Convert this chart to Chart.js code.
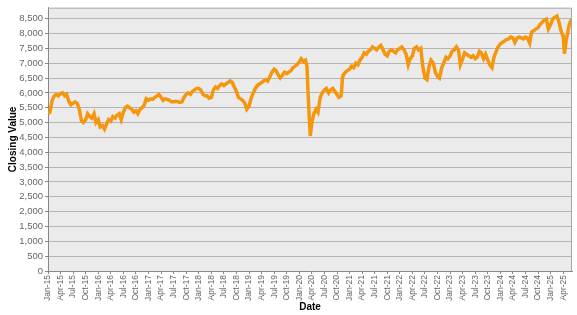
<!DOCTYPE html>
<html>
<head>
<meta charset="utf-8">
<script src="https://cdn.jsdelivr.net/npm/chart.js@4.4.1/dist/chart.umd.min.js"></script>
<style>
  html, body { margin: 0; padding: 0; background: #fff; }
  #wrap { width: 577px; height: 315px; }
</style>
</head>
<body>
<div id="wrap"><canvas id="chart" width="577" height="315"></canvas></div>
<script>
// closing values, roughly twice a month
const dates = [
  "2015-01-01","2015-01-15","2015-02-01","2015-02-15","2015-03-01","2015-03-15","2015-04-01","2015-04-15","2015-05-01","2015-05-15","2015-06-01","2015-06-15",
  "2015-07-01","2015-07-15","2015-08-01","2015-08-15","2015-09-01","2015-09-15","2015-10-01","2015-10-15","2015-11-01","2015-11-15","2015-12-01","2015-12-15",
  "2016-01-01","2016-01-15","2016-02-01","2016-02-15","2016-03-01","2016-03-15","2016-04-01","2016-04-15","2016-05-01","2016-05-15","2016-06-01","2016-06-15",
  "2016-07-01","2016-07-15","2016-08-01","2016-08-15","2016-09-01","2016-09-15","2016-10-01","2016-10-15","2016-11-01","2016-11-15","2016-12-01","2016-12-15",
  "2017-01-01","2017-01-15","2017-02-01","2017-02-15","2017-03-01","2017-03-15","2017-04-01","2017-04-15","2017-05-01","2017-05-15","2017-06-01","2017-06-15",
  "2017-07-01","2017-07-15","2017-08-01","2017-08-15","2017-09-01","2017-09-15","2017-10-01","2017-10-15","2017-11-01","2017-11-15","2017-12-01","2017-12-15",
  "2018-01-01","2018-01-15","2018-02-01","2018-02-15","2018-03-01","2018-03-15","2018-04-01","2018-04-15","2018-05-01","2018-05-15","2018-06-01","2018-06-15",
  "2018-07-01","2018-07-15","2018-08-01","2018-08-15","2018-09-01","2018-09-15","2018-10-01","2018-10-15","2018-11-01","2018-11-15","2018-12-01","2018-12-15",
  "2019-01-01","2019-01-15","2019-02-01","2019-02-15","2019-03-01","2019-03-15","2019-04-01","2019-04-15","2019-05-01","2019-05-15","2019-06-01","2019-06-15",
  "2019-07-01","2019-07-15","2019-08-01","2019-08-15","2019-09-01","2019-09-15","2019-10-01","2019-10-15","2019-11-01","2019-11-15","2019-12-01","2019-12-15",
  "2020-01-01","2020-01-15","2020-02-01","2020-02-15","2020-02-25","2020-03-01","2020-03-10","2020-03-20","2020-04-01","2020-04-15","2020-05-01","2020-05-15",
  "2020-06-01","2020-06-15","2020-07-01","2020-07-15","2020-08-01","2020-08-15","2020-09-01","2020-09-15","2020-10-01","2020-10-15","2020-11-01","2020-11-10",
  "2020-11-15","2020-12-01","2020-12-15",
  "2021-01-01","2021-01-15","2021-02-01","2021-02-15","2021-03-01","2021-03-15","2021-04-01","2021-04-15","2021-05-01","2021-05-15","2021-06-01","2021-06-15",
  "2021-07-01","2021-07-15","2021-08-01","2021-08-15","2021-09-01","2021-09-15","2021-10-01","2021-10-15","2021-11-01","2021-11-15","2021-12-01","2021-12-15",
  "2022-01-01","2022-01-15","2022-02-01","2022-02-15","2022-03-01","2022-03-15","2022-04-01","2022-04-15","2022-05-01","2022-05-15","2022-06-01","2022-06-15",
  "2022-07-01","2022-07-15","2022-08-01","2022-08-15","2022-09-01","2022-09-15","2022-10-01","2022-10-15","2022-11-01","2022-11-15","2022-12-01","2022-12-15",
  "2023-01-01","2023-01-15","2023-02-01","2023-02-15","2023-03-01","2023-03-15","2023-04-01","2023-04-15","2023-05-01","2023-05-15","2023-06-01","2023-06-15",
  "2023-07-01","2023-07-15","2023-08-01","2023-08-15","2023-09-01","2023-09-15","2023-10-01","2023-10-15","2023-11-01","2023-11-15","2023-12-01","2023-12-15",
  "2024-01-01","2024-01-15","2024-02-01","2024-02-15","2024-03-01","2024-03-15","2024-04-01","2024-04-15","2024-05-01","2024-05-15","2024-06-01","2024-06-15",
  "2024-07-01","2024-07-15","2024-08-01","2024-08-15","2024-09-01","2024-09-15","2024-10-01","2024-10-15","2024-11-01","2024-11-15","2024-12-01","2024-12-15",
  "2025-01-01","2025-01-15","2025-02-01","2025-02-15","2025-03-01","2025-03-15","2025-04-01","2025-04-10","2025-04-20","2025-05-01","2025-05-15","2025-05-31"
];
const closing = [
  5300,5350,5750,5900,5950,5900,5980,6000,5900,5950,5700,5600,
  5650,5700,5650,5450,5050,5000,5100,5300,5200,5150,5300,5000,
  5100,4850,4900,4780,4950,5100,5050,5200,5150,5250,5300,5100,
  5350,5500,5550,5500,5450,5350,5400,5300,5450,5500,5600,5800,
  5750,5800,5780,5850,5900,5950,5850,5750,5800,5780,5750,5700,
  5700,5720,5700,5680,5700,5850,5950,6000,5950,6050,6100,6150,
  6150,6100,5950,5900,5900,5820,5850,6100,6200,6150,6250,6300,
  6250,6300,6350,6400,6350,6200,6050,5850,5800,5750,5650,5450,
  5550,5800,6000,6150,6250,6300,6350,6400,6450,6400,6550,6700,
  6800,6750,6600,6500,6600,6700,6650,6700,6750,6850,6900,6950,
  7050,7150,7050,7100,6900,6300,5400,4550,5000,5300,5450,5350,
  5850,6000,6100,6150,6000,6100,6150,6050,5950,5850,5900,6500,
  6600,6700,6750,
  6800,6900,6850,7000,6950,7100,7200,7350,7300,7400,7450,7550,
  7500,7450,7550,7600,7450,7300,7250,7400,7450,7400,7350,7450,
  7500,7550,7450,7300,6950,7150,7250,7500,7550,7450,7500,6900,
  6500,6450,6900,7100,7000,6700,6550,6500,6850,7000,7200,7150,
  7250,7400,7450,7550,7450,6950,7150,7350,7300,7250,7200,7250,
  7150,7200,7400,7350,7150,7300,7100,6950,6850,7200,7400,7550,
  7650,7700,7750,7800,7820,7880,7850,7700,7850,7880,7850,7820,
  7880,7850,7680,8050,8100,8150,8200,8300,8380,8450,8480,8150,
  8300,8480,8550,8590,8380,8100,7900,7320,7700,7980,8300,8480
];
const monthNames = ["Jan","Feb","Mar","Apr","May","Jun","Jul","Aug","Sep","Oct","Nov","Dec"];
const yTicks = [0,500,1000,1500,2000,2500,3000,3500,4000,4500,5000,5500,6000,6500,7000,7500,8000,8500];

// months since Jan 2015
function toMonths(s) {
  const p = s.split("-").map(Number);
  const dim = new Date(p[0], p[1], 0).getDate();
  return (p[0] - 2015) * 12 + (p[1] - 1) + (p[2] - 1) / dim;
}
const points = dates.map((d, i) => ({ x: toMonths(d), y: closing[i] }));

const plotBg = {
  id: "plotBg",
  beforeDraw(chart) {
    const { ctx, chartArea: a } = chart;
    ctx.save();
    ctx.fillStyle = "#ebebeb";
    ctx.fillRect(a.left, a.top, a.right - a.left, a.bottom - a.top);
    ctx.restore();
  },
  afterDatasetsDraw(chart) {
    const { ctx, chartArea: a } = chart;
    ctx.save();
    ctx.strokeStyle = "#a8a8a8";
    ctx.lineWidth = 1;
    ctx.beginPath();
    ctx.moveTo(a.left, a.top + 0.5);
    ctx.lineTo(a.right - 0.5, a.top + 0.5);
    ctx.lineTo(a.right - 0.5, a.bottom);
    ctx.stroke();
    ctx.restore();
  }
};

const font = "Liberation Sans, Arial, sans-serif";

new Chart(document.getElementById("chart"), {
  type: "line",
  data: {
    datasets: [{
      data: points,
      borderColor: "#f5960f",
      borderWidth: 3.5,
      pointRadius: 0,
      tension: 0,
      fill: false
    }]
  },
  options: {
    responsive: false,
    animation: false,
    layout: { padding: { top: 3, right: 5, left: 0, bottom: 0 } },
    plugins: { legend: { display: false }, tooltip: { enabled: false } },
    scales: {
      x: {
        type: "linear",
        min: 0,
        max: 125.1,
        afterBuildTicks(scale) {
          const t = [];
          for (let m = 0; m <= 123; m += 3) t.push({ value: m });
          scale.ticks = t;
        },
        afterFit(scale) { scale.height = 44; },
        ticks: {
          minRotation: 90,
          maxRotation: 90,
          autoSkip: false,
          padding: 1,
          color: "#666",
          font: { family: font, size: 8.5 },
          callback(v) {
            const y = Math.floor(v / 12), m = v % 12;
            return monthNames[m] + "-" + String(15 + y);
          }
        },
        grid: { drawOnChartArea: false, tickLength: 3, color: "#888" },
        border: { color: "#888" },
        title: {
          display: true,
          text: "Date",
          color: "#000",
          padding: { top: 0, bottom: 2 },
          font: { family: font, size: 10, weight: "bold" }
        }
      },
      y: {
        min: 0,
        max: 8870,
        afterBuildTicks(scale) {
          scale.ticks = yTicks.map(v => ({ value: v }));
        },
        afterFit(scale) { scale.width = 48; },
        ticks: {
          autoSkip: false,
          padding: 2,
          color: "#666",
          font: { family: font, size: 9.5 },
          callback(v) { return v.toLocaleString("en-US"); }
        },
        grid: { color: "#b4b4b4", lineWidth: 1, tickLength: 3, tickColor: "#888" },
        border: { color: "#888" },
        title: {
          display: true,
          text: "Closing Value",
          color: "#000",
          padding: { top: 7, bottom: 2 },
          font: { family: font, size: 10, weight: "bold" }
        }
      }
    }
  },
  plugins: [plotBg]
});
</script>
</body>
</html>
